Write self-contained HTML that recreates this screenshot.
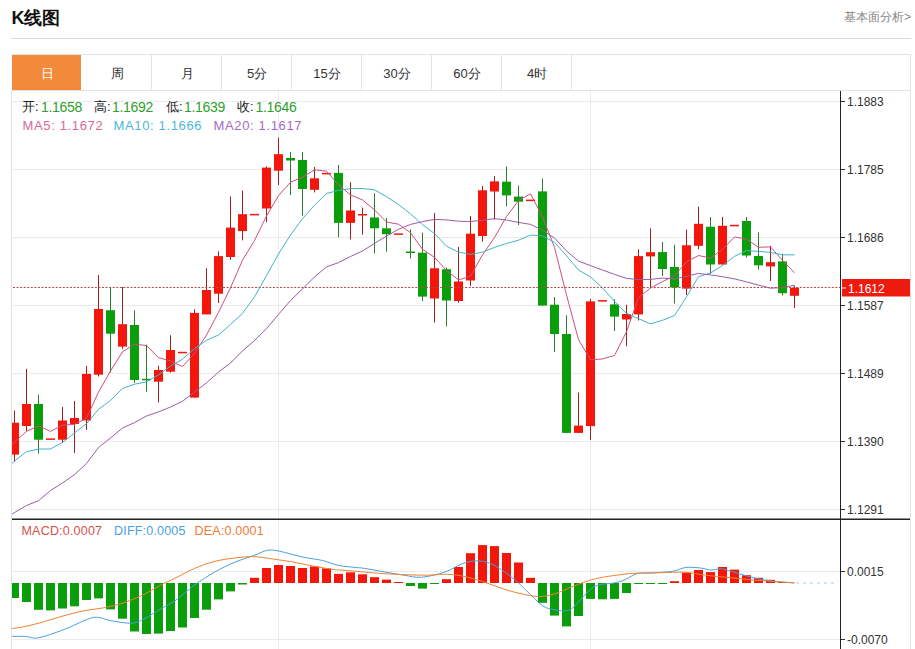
<!DOCTYPE html>
<html><head><meta charset="utf-8"><title>K</title><style>
html,body{margin:0;padding:0;background:#fff;}
body{width:915px;height:649px;overflow:hidden;position:relative;font-family:"Liberation Sans",sans-serif;}
.t{position:absolute;white-space:nowrap;line-height:1;}
.tab{position:absolute;top:56px;height:35px;width:70px;text-align:center;line-height:35px;font-size:13px;color:#333;}
</style></head><body>

<div class="t" style="left:11.5px;top:9px;font-size:18px;font-weight:bold;color:#111">K线图</div>
<div class="t" style="left:844px;top:10.5px;font-size:12px;color:#888">基本面分析&gt;</div>
<svg width="915" height="649" viewBox="0 0 915 649" style="position:absolute;left:0;top:0" shape-rendering="crispEdges">
<rect x="11" y="38" width="900" height="1" fill="#d8d8d8"/>
<rect x="12" y="54.5" width="898.5" height="36" fill="none" stroke="#e3e3e3" stroke-width="1"/>
<rect x="12" y="55" width="69" height="35" fill="#f2893b"/>
<rect x="151" y="55" width="1" height="35" fill="#e3e3e3"/>
<rect x="221" y="55" width="1" height="35" fill="#e3e3e3"/>
<rect x="291" y="55" width="1" height="35" fill="#e3e3e3"/>
<rect x="361" y="55" width="1" height="35" fill="#e3e3e3"/>
<rect x="431" y="55" width="1" height="35" fill="#e3e3e3"/>
<rect x="501" y="55" width="1" height="35" fill="#e3e3e3"/>
<rect x="571" y="55" width="1" height="35" fill="#e3e3e3"/>
<rect x="11" y="90" width="1" height="559" fill="#e0e0e0"/>
<rect x="910" y="55" width="1" height="594" fill="#e3e3e3"/>
<rect x="13" y="101" width="827" height="1" fill="#ebebeb"/>
<rect x="13" y="169" width="827" height="1" fill="#ebebeb"/>
<rect x="13" y="237" width="827" height="1" fill="#ebebeb"/>
<rect x="13" y="305" width="827" height="1" fill="#ebebeb"/>
<rect x="13" y="373" width="827" height="1" fill="#ebebeb"/>
<rect x="13" y="441" width="827" height="1" fill="#ebebeb"/>
<rect x="13" y="509" width="827" height="1" fill="#ebebeb"/>
<rect x="278" y="91" width="1" height="558" fill="#e8ecf0"/>
<rect x="590" y="91" width="1" height="558" fill="#e8ecf0"/>
<rect x="13" y="571" width="827" height="1" fill="#ebebeb"/>
<rect x="13" y="639" width="827" height="1" fill="#ebebeb"/>
</svg>
<svg width="915" height="649" viewBox="0 0 915 649" style="position:absolute;left:0;top:0">
<defs><clipPath id="cp"><rect x="12" y="91" width="828" height="428"/></clipPath><clipPath id="cp2"><rect x="12" y="520" width="828" height="129"/></clipPath></defs>
<g clip-path="url(#cp)">
<rect x="14" y="410.5" width="1" height="51.2" fill="#a01e1e"/>
<rect x="10" y="422.7" width="9" height="31.9" fill="#f2170a"/>
<rect x="26" y="368.8" width="1" height="62.2" fill="#a01e1e"/>
<rect x="22" y="404" width="9" height="22" fill="#f2170a"/>
<rect x="38" y="394.7" width="1" height="58.9" fill="#2e7a2e"/>
<rect x="34" y="404" width="9" height="35.7" fill="#0a9e0a"/>
<rect x="46" y="438.4" width="9" height="1.5" fill="#f2170a"/>
<rect x="62" y="407" width="1" height="36" fill="#a01e1e"/>
<rect x="58" y="420.5" width="9" height="19.2" fill="#f2170a"/>
<rect x="74" y="401" width="1" height="51.9" fill="#a01e1e"/>
<rect x="70" y="418" width="9" height="6" fill="#f2170a"/>
<rect x="86" y="366" width="1" height="64" fill="#a01e1e"/>
<rect x="82" y="373.9" width="9" height="46.6" fill="#f2170a"/>
<rect x="98" y="275" width="1" height="101.4" fill="#a01e1e"/>
<rect x="94" y="309" width="9" height="65.7" fill="#f2170a"/>
<rect x="110" y="287" width="1" height="85.5" fill="#2e7a2e"/>
<rect x="106" y="310.2" width="9" height="23.5" fill="#0a9e0a"/>
<rect x="122" y="287" width="1" height="61.8" fill="#a01e1e"/>
<rect x="118" y="324.2" width="9" height="22.4" fill="#f2170a"/>
<rect x="134" y="310.3" width="1" height="72.6" fill="#2e7a2e"/>
<rect x="130" y="325" width="9" height="55" fill="#0a9e0a"/>
<rect x="146" y="344.6" width="1" height="47.1" fill="#2e7a2e"/>
<rect x="142" y="378.8" width="9" height="1.5" fill="#0a9e0a"/>
<rect x="158" y="365.8" width="1" height="36.6" fill="#a01e1e"/>
<rect x="154" y="370" width="9" height="11.7" fill="#f2170a"/>
<rect x="170" y="335.3" width="1" height="37.2" fill="#a01e1e"/>
<rect x="166" y="350" width="9" height="21.7" fill="#f2170a"/>
<rect x="178" y="351.8" width="9" height="1.5" fill="#f2170a"/>
<rect x="194" y="309.3" width="1" height="88.3" fill="#a01e1e"/>
<rect x="190" y="312.9" width="9" height="84.7" fill="#f2170a"/>
<rect x="206" y="268.3" width="1" height="46.1" fill="#a01e1e"/>
<rect x="202" y="290" width="9" height="24.4" fill="#f2170a"/>
<rect x="218" y="251.4" width="1" height="51.6" fill="#a01e1e"/>
<rect x="214" y="256.1" width="9" height="37.6" fill="#f2170a"/>
<rect x="230" y="196.4" width="1" height="63.4" fill="#a01e1e"/>
<rect x="226" y="227.6" width="9" height="29.4" fill="#f2170a"/>
<rect x="242" y="190.5" width="1" height="49.8" fill="#a01e1e"/>
<rect x="238" y="214.2" width="9" height="16.9" fill="#f2170a"/>
<rect x="250" y="213.9" width="9" height="1.5" fill="#f2170a"/>
<rect x="266" y="166.4" width="1" height="55.6" fill="#a01e1e"/>
<rect x="262" y="167.6" width="9" height="40.9" fill="#f2170a"/>
<rect x="278" y="137.6" width="1" height="47.4" fill="#a01e1e"/>
<rect x="274" y="154.2" width="9" height="16.5" fill="#f2170a"/>
<rect x="290" y="152" width="1" height="43" fill="#2e7a2e"/>
<rect x="286" y="158" width="9" height="2.5" fill="#0a9e0a"/>
<rect x="302" y="152" width="1" height="63.6" fill="#2e7a2e"/>
<rect x="298" y="160" width="9" height="29" fill="#0a9e0a"/>
<rect x="314" y="167" width="1" height="25.4" fill="#a01e1e"/>
<rect x="310" y="178.3" width="9" height="11.5" fill="#f2170a"/>
<rect x="322" y="172.9" width="9" height="1.5" fill="#f2170a"/>
<rect x="338" y="165" width="1" height="72.3" fill="#2e7a2e"/>
<rect x="334" y="172.9" width="9" height="50" fill="#0a9e0a"/>
<rect x="350" y="182.2" width="1" height="57.3" fill="#a01e1e"/>
<rect x="346" y="210.5" width="9" height="12.4" fill="#f2170a"/>
<rect x="362" y="207.6" width="1" height="27.1" fill="#a01e1e"/>
<rect x="358" y="214" width="9" height="1.5" fill="#f2170a"/>
<rect x="374" y="193.2" width="1" height="60.2" fill="#2e7a2e"/>
<rect x="370" y="217.5" width="9" height="10.8" fill="#0a9e0a"/>
<rect x="386" y="218.1" width="1" height="33.6" fill="#2e7a2e"/>
<rect x="382" y="228.3" width="9" height="5.9" fill="#0a9e0a"/>
<rect x="394" y="233.4" width="9" height="1.5" fill="#f2170a"/>
<rect x="410" y="229.3" width="1" height="29.3" fill="#2e7a2e"/>
<rect x="406" y="251.5" width="9" height="1.5" fill="#0a9e0a"/>
<rect x="422" y="232.7" width="1" height="68.3" fill="#2e7a2e"/>
<rect x="418" y="252.7" width="9" height="43.9" fill="#0a9e0a"/>
<rect x="434" y="213" width="1" height="109.5" fill="#a01e1e"/>
<rect x="430" y="268.3" width="9" height="30.2" fill="#f2170a"/>
<rect x="446" y="267.5" width="1" height="58.9" fill="#2e7a2e"/>
<rect x="442" y="269.2" width="9" height="31.3" fill="#0a9e0a"/>
<rect x="458" y="247" width="1" height="55.7" fill="#a01e1e"/>
<rect x="454" y="281.5" width="9" height="19.5" fill="#f2170a"/>
<rect x="470" y="216" width="1" height="70.1" fill="#a01e1e"/>
<rect x="466" y="233.7" width="9" height="46.8" fill="#f2170a"/>
<rect x="482" y="186" width="1" height="55.6" fill="#a01e1e"/>
<rect x="478" y="190.3" width="9" height="45.7" fill="#f2170a"/>
<rect x="494" y="176" width="1" height="43.5" fill="#a01e1e"/>
<rect x="490" y="181.4" width="9" height="10.1" fill="#f2170a"/>
<rect x="506" y="166.4" width="1" height="39.9" fill="#2e7a2e"/>
<rect x="502" y="181.7" width="9" height="13.7" fill="#0a9e0a"/>
<rect x="518" y="185.6" width="1" height="39.4" fill="#2e7a2e"/>
<rect x="514" y="196.6" width="9" height="5.1" fill="#0a9e0a"/>
<rect x="526" y="199.6" width="9" height="1.5" fill="#f2170a"/>
<rect x="542" y="178.5" width="1" height="127.1" fill="#2e7a2e"/>
<rect x="538" y="191.4" width="9" height="114.2" fill="#0a9e0a"/>
<rect x="554" y="297" width="1" height="54.9" fill="#2e7a2e"/>
<rect x="550" y="304.7" width="9" height="29.3" fill="#0a9e0a"/>
<rect x="566" y="315.4" width="1" height="117.6" fill="#2e7a2e"/>
<rect x="562" y="334" width="9" height="98.9" fill="#0a9e0a"/>
<rect x="578" y="392.5" width="1" height="40.4" fill="#a01e1e"/>
<rect x="574" y="425.6" width="9" height="7.3" fill="#f2170a"/>
<rect x="590" y="298.8" width="1" height="141.2" fill="#a01e1e"/>
<rect x="586" y="301.4" width="9" height="124.7" fill="#f2170a"/>
<rect x="598" y="300.1" width="9" height="1.5" fill="#f2170a"/>
<rect x="614" y="299.2" width="1" height="31.8" fill="#2e7a2e"/>
<rect x="610" y="304.4" width="9" height="12.2" fill="#0a9e0a"/>
<rect x="626" y="304.7" width="1" height="41.6" fill="#a01e1e"/>
<rect x="622" y="314" width="9" height="5.5" fill="#f2170a"/>
<rect x="638" y="249.3" width="1" height="71.2" fill="#a01e1e"/>
<rect x="634" y="256.1" width="9" height="58.3" fill="#f2170a"/>
<rect x="650" y="228.4" width="1" height="59.8" fill="#a01e1e"/>
<rect x="646" y="252.2" width="9" height="4.2" fill="#f2170a"/>
<rect x="662" y="242" width="1" height="34" fill="#2e7a2e"/>
<rect x="658" y="252.1" width="9" height="16.9" fill="#0a9e0a"/>
<rect x="674" y="244.7" width="1" height="58.8" fill="#2e7a2e"/>
<rect x="670" y="267" width="9" height="20.4" fill="#0a9e0a"/>
<rect x="686" y="229.7" width="1" height="65.3" fill="#a01e1e"/>
<rect x="682" y="245.3" width="9" height="43.3" fill="#f2170a"/>
<rect x="698" y="206.5" width="1" height="42.7" fill="#a01e1e"/>
<rect x="694" y="223.8" width="9" height="22" fill="#f2170a"/>
<rect x="710" y="217" width="1" height="56.8" fill="#2e7a2e"/>
<rect x="706" y="226.7" width="9" height="37.8" fill="#0a9e0a"/>
<rect x="722" y="217" width="1" height="47.5" fill="#a01e1e"/>
<rect x="718" y="225.8" width="9" height="38.7" fill="#f2170a"/>
<rect x="730" y="224.8" width="9" height="1.5" fill="#f2170a"/>
<rect x="746" y="217" width="1" height="40.5" fill="#2e7a2e"/>
<rect x="742" y="221" width="9" height="34.5" fill="#0a9e0a"/>
<rect x="758" y="232.4" width="1" height="37.1" fill="#2e7a2e"/>
<rect x="754" y="256" width="9" height="9.3" fill="#0a9e0a"/>
<rect x="770" y="245.8" width="1" height="35.2" fill="#a01e1e"/>
<rect x="766" y="262.2" width="9" height="4.2" fill="#f2170a"/>
<rect x="782" y="253.9" width="1" height="41.5" fill="#2e7a2e"/>
<rect x="778" y="261.4" width="9" height="31.8" fill="#0a9e0a"/>
<rect x="794" y="285.6" width="1" height="22.4" fill="#a01e1e"/>
<rect x="790" y="287.8" width="9" height="8" fill="#f2170a"/>
<polyline points="2.5,456 14.5,442 26.5,431.4 38.5,425.8 50.5,431.4 62.5,425.2 74.5,424.3 86.5,418.3 98.5,392.1 110.5,371 122.5,351.8 134.5,344.2 146.5,345.5 158.5,357.7 170.5,360.9 182.5,366.6 194.5,353.2 206.5,335.1 218.5,312.3 230.5,287.8 242.5,260.2 254.5,240.5 266.5,216 278.5,195.7 290.5,182.2 302.5,177.2 314.5,169.9 326.5,171.1 338.5,184.9 350.5,194.9 362.5,199.9 374.5,209.9 386.5,222 398.5,224.2 410.5,232.7 422.5,249.3 434.5,257.3 446.5,270.5 458.5,280 470.5,276.1 482.5,254.9 494.5,237.5 506.5,216.5 518.5,200.5 530.5,193.8 542.5,216.9 554.5,247.4 566.5,294.9 578.5,339.7 590.5,359.9 602.5,358.9 614.5,355.5 626.5,331.7 638.5,297.8 650.5,287.9 662.5,281.6 674.5,275.7 686.5,262 698.5,255.5 710.5,258 722.5,249.4 734.5,237 746.5,239 758.5,247.3 770.5,246.9 782.5,260.3 794.5,272.8" fill="none" stroke="#d04e80" stroke-width="1" stroke-linejoin="round"/>
<polyline points="2.5,473 14.5,461 26.5,451.7 38.5,449 50.5,449 62.5,442.4 74.5,433 86.5,423.7 98.5,409.3 110.5,400.5 122.5,388.5 134.5,384.2 146.5,381.9 158.5,374.9 170.5,366 182.5,359.2 194.5,348.7 206.5,340.3 218.5,335 230.5,324.4 242.5,313.4 254.5,296.9 266.5,275.6 278.5,254 290.5,235 302.5,218.7 314.5,205.2 326.5,193.6 338.5,190.3 350.5,188.6 362.5,188.5 374.5,189.9 386.5,196.6 398.5,204.6 410.5,213.8 422.5,224.6 434.5,233.6 446.5,246.2 458.5,252.1 470.5,254.4 482.5,252.1 494.5,247.4 506.5,243.5 518.5,240.2 530.5,235 542.5,235.9 554.5,242.4 566.5,255.7 578.5,270.1 590.5,276.9 602.5,287.9 614.5,301.4 626.5,313.3 638.5,318.7 650.5,323.9 662.5,320.3 674.5,315.6 686.5,296.8 698.5,276.7 710.5,273 722.5,265.5 734.5,256.4 746.5,250.5 758.5,251.4 770.5,252.4 782.5,254.8 794.5,254.9" fill="none" stroke="#42b4c8" stroke-width="1" stroke-linejoin="round"/>
<polyline points="2.5,520 14.5,512.5 26.5,505.5 38.5,500.7 50.5,490.5 62.5,483 74.5,474.6 86.5,463.5 98.5,447.5 110.5,438 122.5,428 134.5,422.6 146.5,416 158.5,411.9 170.5,407 182.5,401.3 194.5,392 206.5,382.8 218.5,372 230.5,363 242.5,350.9 254.5,340.5 266.5,328.7 278.5,314.4 290.5,300.5 302.5,288.9 314.5,276.9 326.5,266.9 338.5,262.6 350.5,256.5 362.5,251 374.5,243.4 386.5,236.1 398.5,229.3 410.5,224.4 422.5,221.6 434.5,219.4 446.5,219.9 458.5,221.2 470.5,221.5 482.5,220.3 494.5,218.6 506.5,220 518.5,222.4 530.5,224.4 542.5,230.2 554.5,238 566.5,251 578.5,261.1 590.5,265.6 602.5,270 614.5,274.4 626.5,278.4 638.5,279.5 650.5,279.4 662.5,278.1 674.5,279 686.5,276.3 698.5,273.4 710.5,274.9 722.5,276.7 734.5,278.9 746.5,281.9 758.5,285.1 770.5,288.2 782.5,287.6 794.5,285.2" fill="none" stroke="#9a5ca6" stroke-width="1" stroke-linejoin="round"/>
</g>
<line x1="13" y1="287.5" x2="840" y2="287.5" stroke="#b04a4a" stroke-width="1" stroke-dasharray="2,1.56"/>
<rect x="840" y="91" width="1" height="558" fill="#222"/>
<rect x="841" y="101" width="4" height="1" fill="#333"/>
<rect x="841" y="169" width="4" height="1" fill="#333"/>
<rect x="841" y="237" width="4" height="1" fill="#333"/>
<rect x="841" y="305" width="4" height="1" fill="#333"/>
<rect x="841" y="373" width="4" height="1" fill="#333"/>
<rect x="841" y="441" width="4" height="1" fill="#333"/>
<rect x="841" y="509" width="4" height="1" fill="#333"/>
<rect x="12" y="518.5" width="898" height="1.5" fill="#222"/>
<rect x="842" y="279" width="68" height="17.5" fill="#ee1a0e"/>
<rect x="842" y="287.5" width="4" height="1" fill="#fff"/>
<g clip-path="url(#cp2)">
<rect x="10" y="583" width="9" height="15" fill="#0a9e0a"/>
<rect x="22" y="583" width="9" height="19" fill="#0a9e0a"/>
<rect x="34" y="583" width="9" height="26.8" fill="#0a9e0a"/>
<rect x="46" y="583" width="9" height="27.4" fill="#0a9e0a"/>
<rect x="58" y="583" width="9" height="25.5" fill="#0a9e0a"/>
<rect x="70" y="583" width="9" height="23.3" fill="#0a9e0a"/>
<rect x="82" y="583" width="9" height="17" fill="#0a9e0a"/>
<rect x="94" y="583" width="9" height="15.4" fill="#0a9e0a"/>
<rect x="106" y="583" width="9" height="26.4" fill="#0a9e0a"/>
<rect x="118" y="583" width="9" height="35.7" fill="#0a9e0a"/>
<rect x="130" y="583" width="9" height="48.5" fill="#0a9e0a"/>
<rect x="142" y="583" width="9" height="51" fill="#0a9e0a"/>
<rect x="154" y="583" width="9" height="50.6" fill="#0a9e0a"/>
<rect x="166" y="583" width="9" height="48" fill="#0a9e0a"/>
<rect x="178" y="583" width="9" height="44.5" fill="#0a9e0a"/>
<rect x="190" y="583" width="9" height="35" fill="#0a9e0a"/>
<rect x="202" y="583" width="9" height="26.7" fill="#0a9e0a"/>
<rect x="214" y="583" width="9" height="16.4" fill="#0a9e0a"/>
<rect x="226" y="583" width="9" height="8.4" fill="#0a9e0a"/>
<rect x="238" y="583" width="9" height="1.5" fill="#0a9e0a"/>
<rect x="250" y="577.8" width="9" height="5.2" fill="#f2170a"/>
<rect x="262" y="568" width="9" height="15" fill="#f2170a"/>
<rect x="274" y="565" width="9" height="18" fill="#f2170a"/>
<rect x="286" y="566" width="9" height="17" fill="#f2170a"/>
<rect x="298" y="568" width="9" height="15" fill="#f2170a"/>
<rect x="310" y="566.4" width="9" height="16.6" fill="#f2170a"/>
<rect x="322" y="568.4" width="9" height="14.6" fill="#f2170a"/>
<rect x="334" y="573.9" width="9" height="9.1" fill="#f2170a"/>
<rect x="346" y="572.3" width="9" height="10.7" fill="#f2170a"/>
<rect x="358" y="574.3" width="9" height="8.7" fill="#f2170a"/>
<rect x="370" y="577.2" width="9" height="5.8" fill="#f2170a"/>
<rect x="382" y="579.6" width="9" height="3.4" fill="#f2170a"/>
<rect x="394" y="582" width="9" height="1" fill="#f2170a"/>
<rect x="406" y="583" width="9" height="3" fill="#0a9e0a"/>
<rect x="418" y="583" width="9" height="5.6" fill="#0a9e0a"/>
<rect x="430" y="583" width="9" height="1" fill="#0a9e0a"/>
<rect x="442" y="579.2" width="9" height="3.8" fill="#f2170a"/>
<rect x="454" y="567" width="9" height="16" fill="#f2170a"/>
<rect x="466" y="553.2" width="9" height="29.8" fill="#f2170a"/>
<rect x="478" y="545.1" width="9" height="37.9" fill="#f2170a"/>
<rect x="490" y="546.1" width="9" height="36.9" fill="#f2170a"/>
<rect x="502" y="553" width="9" height="30" fill="#f2170a"/>
<rect x="514" y="562.5" width="9" height="20.5" fill="#f2170a"/>
<rect x="526" y="577.8" width="9" height="5.2" fill="#f2170a"/>
<rect x="538" y="583" width="9" height="19.8" fill="#0a9e0a"/>
<rect x="550" y="583" width="9" height="32.6" fill="#0a9e0a"/>
<rect x="562" y="583" width="9" height="43.4" fill="#0a9e0a"/>
<rect x="574" y="583" width="9" height="33" fill="#0a9e0a"/>
<rect x="586" y="583" width="9" height="15.9" fill="#0a9e0a"/>
<rect x="598" y="583" width="9" height="16.3" fill="#0a9e0a"/>
<rect x="610" y="583" width="9" height="15.9" fill="#0a9e0a"/>
<rect x="622" y="583" width="9" height="10" fill="#0a9e0a"/>
<rect x="634" y="583" width="9" height="1" fill="#0a9e0a"/>
<rect x="646" y="583" width="9" height="1" fill="#0a9e0a"/>
<rect x="658" y="583" width="9" height="1" fill="#0a9e0a"/>
<rect x="670" y="581.2" width="9" height="1.8" fill="#f2170a"/>
<rect x="682" y="572.8" width="9" height="10.2" fill="#f2170a"/>
<rect x="694" y="570" width="9" height="13" fill="#f2170a"/>
<rect x="706" y="572.1" width="9" height="10.9" fill="#f2170a"/>
<rect x="718" y="567" width="9" height="16" fill="#f2170a"/>
<rect x="730" y="569.6" width="9" height="13.4" fill="#f2170a"/>
<rect x="742" y="575.2" width="9" height="7.8" fill="#f2170a"/>
<rect x="754" y="577.8" width="9" height="5.2" fill="#f2170a"/>
<rect x="766" y="579.8" width="9" height="3.2" fill="#f2170a"/>
<rect x="778" y="582" width="9" height="1" fill="#f2170a"/>
<path d="M5,636.4 C8.3,636.4 19.1,636.2 24.7,636.4 C30.3,636.6 31.8,638.9 38.4,637.8 C44.9,636.6 55.8,632.6 64,629.5 C72.2,626.4 82,621.3 87.6,619.3 C93.2,617.3 93.6,617.1 97.5,617.3 C101.4,617.5 105.6,619.7 111.2,620.7 C116.8,621.7 125.8,623.4 131,623.2 C136.2,623 137.5,622.2 142.7,619.7 C147.9,617.2 157,611 162.4,607.9 C167.8,604.8 169.6,604.6 175,600.8 C180.4,597 188.1,589.8 194.7,585 C201.2,580.2 207.8,576 214.3,572.3 C220.9,568.5 227.4,565.3 234,562.5 C240.6,559.7 248.1,557.6 253.7,555.6 C259.3,553.6 263.2,551 267.5,550.3 C271.8,549.6 273.4,550.1 279.3,551.2 C285.2,552.3 295.7,555.6 302.9,557.1 C310.1,558.6 316.7,559.1 322.6,560.5 C328.5,561.9 332.9,564.2 338.3,565.4 C343.7,566.5 350.6,566.9 355,567.4 C359.4,567.9 359.8,567.6 364.7,568.4 C369.6,569.1 377.8,570.8 384.3,571.9 C390.9,573 397.8,574.3 404,575.2 C410.2,576.1 414.8,577.8 421.7,577.2 C428.6,576.7 438.4,574.2 445.3,571.9 C452.2,569.6 457.4,565.2 463,563.4 C468.6,561.6 473.6,560.6 478.8,560.9 C484.1,561.2 488.6,562.3 494.5,565.4 C500.4,568.5 508.8,574.9 514.2,579.2 C519.6,583.5 522.1,586.6 526.8,591 C531.5,595.4 537.9,602.6 542.5,605.7 C547.1,608.8 550.3,608.9 554.3,609.7 C558.2,610.5 562.9,611.2 566.2,610.7 C569.5,610.2 569.4,610.7 574,606.7 C578.6,602.8 587.1,590.9 593.7,587 C600.3,583.1 608.1,584.3 613.4,583.1 C618.6,581.9 621.3,581.2 625.2,579.6 C629.1,578 632.4,574.8 637,573.7 C641.6,572.6 646.8,573.3 652.7,572.9 C658.6,572.5 666.8,572.2 672.4,571.3 C678,570.4 681.5,567.9 686.2,567.4 C690.9,566.9 696.4,567.6 700.5,568 C704.6,568.4 707.4,569.9 710.8,570 C714.2,570.1 717.7,568.6 721.1,568.8 C724.5,569 727.1,570.2 731.4,571.4 C735.7,572.6 741.7,574.6 746.8,576 C751.9,577.4 757.1,578.7 762.2,579.6 C767.3,580.5 772.2,581.1 777.6,581.6 C783,582.1 791.5,582.7 794.3,582.9" fill="none" stroke="#4a9fe0" stroke-width="1"/>
<path d="M5,629.5 C8.3,629 18.1,627.9 24.7,626.6 C31.2,625.3 37.8,623.4 44.3,621.6 C50.8,619.8 57.4,617.5 64,615.7 C70.6,613.9 77.1,612.1 83.7,610.8 C90.3,609.5 96.9,609.2 103.4,607.9 C110,606.6 116.5,605.1 123,603 C129.6,600.9 136.1,598.1 142.7,595 C149.3,591.9 157,587.1 162.4,584.3 C167.8,581.5 169.6,580.9 175,578.2 C180.4,575.6 188.1,571.2 194.7,568.4 C201.2,565.6 207.8,563.2 214.3,561.5 C220.9,559.8 227.4,558.9 234,558.1 C240.6,557.3 247.1,556.4 253.7,556.6 C260.3,556.8 266.8,558.2 273.4,559.1 C279.9,560 286.4,560.9 293,562 C299.6,563.1 306.1,564.8 312.7,566 C319.3,567.2 327,568.6 332.4,569.3 C337.8,570 336.4,569.6 345,570.3 C353.6,571 371.2,572.9 384.3,573.7 C397.4,574.5 413.2,575.1 423.7,575.2 C434.2,575.3 440.8,574.1 447.3,574.3 C453.9,574.5 457.1,575 463,576.2 C468.9,577.4 476.1,579.4 482.7,581.5 C489.3,583.6 496.2,586.6 502.4,588.6 C508.6,590.6 514,592.2 520,593.5 C526,594.8 532.9,596.4 538.6,596.5 C544.3,596.6 548.4,595.8 554.3,594 C560.2,592.2 567.4,588.5 574,586 C580.6,583.5 587.1,580.9 593.7,579.2 C600.3,577.5 606.9,576.6 613.4,575.6 C619.9,574.6 626.5,573.8 633,573.3 C639.5,572.8 646.1,573.1 652.7,572.9 C659.3,572.7 666.7,572.4 672.4,572.3 C678.1,572.2 681.5,571.9 687,572.4 C692.5,572.9 698.3,574.3 705.7,575.2 C713.1,576.1 722.9,576.9 731.4,577.8 C739.9,578.6 746.5,579.4 757,580.3 C767.5,581.1 788.1,582.5 794.3,582.9" fill="none" stroke="#f0822e" stroke-width="1"/>
</g>
<line x1="796" y1="583" x2="838" y2="583" stroke="#a8c8e8" stroke-width="1" stroke-dasharray="3,4"/>
<rect x="841" y="571" width="4" height="1" fill="#333"/>
<rect x="841" y="639" width="4" height="1" fill="#333"/>
</svg>
<div class="tab" style="left:12px;color:#fff">日</div>
<div class="tab" style="left:82px;color:#333">周</div>
<div class="tab" style="left:152px;color:#333">月</div>
<div class="tab" style="left:222px;color:#333">5分</div>
<div class="tab" style="left:292px;color:#333">15分</div>
<div class="tab" style="left:362px;color:#333">30分</div>
<div class="tab" style="left:432px;color:#333">60分</div>
<div class="tab" style="left:502px;color:#333">4时</div>
<div class="t" style="left:847px;top:96px;font-size:12px;color:#333">1.1883</div>
<div class="t" style="left:847px;top:164px;font-size:12px;color:#333">1.1785</div>
<div class="t" style="left:847px;top:232px;font-size:12px;color:#333">1.1686</div>
<div class="t" style="left:847px;top:300px;font-size:12px;color:#333">1.1587</div>
<div class="t" style="left:847px;top:368px;font-size:12px;color:#333">1.1489</div>
<div class="t" style="left:847px;top:436px;font-size:12px;color:#333">1.1390</div>
<div class="t" style="left:847px;top:504px;font-size:12px;color:#333">1.1291</div>
<div class="t" style="left:848px;top:283px;font-size:12px;color:#fff">1.1612</div>
<div class="t" style="left:847px;top:566px;font-size:12px;color:#333">0.0015</div>
<div class="t" style="left:847px;top:634px;font-size:12px;color:#333">-0.0070</div>
<div class="t" style="left:22px;top:100px;font-size:13px;color:#222">开:</div>
<div class="t" style="left:41px;top:99.5px;font-size:14px;letter-spacing:-0.3px;color:#2e9e2e">1.1658</div>
<div class="t" style="left:94px;top:100px;font-size:13px;color:#222">高:</div>
<div class="t" style="left:112px;top:99.5px;font-size:14px;letter-spacing:-0.3px;color:#2e9e2e">1.1692</div>
<div class="t" style="left:166px;top:100px;font-size:13px;color:#222">低:</div>
<div class="t" style="left:184px;top:99.5px;font-size:14px;letter-spacing:-0.3px;color:#2e9e2e">1.1639</div>
<div class="t" style="left:237px;top:100px;font-size:13px;color:#222">收:</div>
<div class="t" style="left:255.5px;top:99.5px;font-size:14px;letter-spacing:-0.3px;color:#2e9e2e">1.1646</div>
<div class="t" style="left:22.5px;top:118.5px;font-size:13px;letter-spacing:0.65px;color:#d9689a">MA5: 1.1672</div>
<div class="t" style="left:113.5px;top:118.5px;font-size:13px;letter-spacing:0.65px;color:#4db8d8">MA10: 1.1666</div>
<div class="t" style="left:213.5px;top:118.5px;font-size:13px;letter-spacing:0.65px;color:#a46ac4">MA20: 1.1617</div>
<div class="t" style="left:21.5px;top:525px;font-size:12.5px;letter-spacing:0.2px;color:#d6504a">MACD:0.0007</div>
<div class="t" style="left:114px;top:525px;font-size:12.5px;letter-spacing:0.2px;color:#4a9fe0">DIFF:0.0005</div>
<div class="t" style="left:194.5px;top:525px;font-size:12.5px;letter-spacing:0.2px;color:#ec7d34">DEA:0.0001</div>
</body></html>
